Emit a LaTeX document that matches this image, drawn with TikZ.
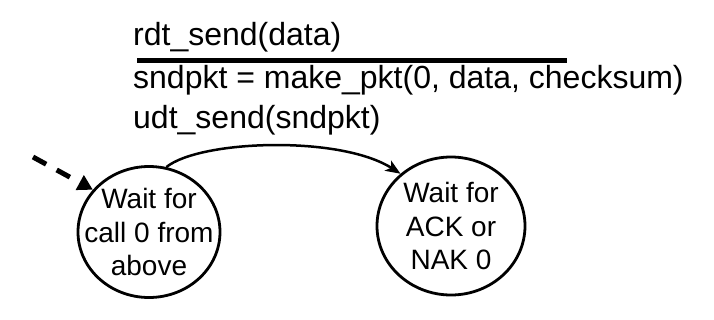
\documentclass[tikz,border=0pt]{standalone}
\usepackage{fontspec}
\setmainfont{Liberation Sans}
\usetikzlibrary{shapes.geometric,arrows.meta}
\begin{document}
\begin{tikzpicture}[x=1pt,y=-1pt,
  state/.style={ellipse,draw,line width=2.8pt,inner xsep=-16pt,inner ysep=-3pt,align=center,
    font=\fontsize{28}{33.5}\selectfont},
  lbl/.style={anchor=base west,inner sep=0pt,
    font=\fontsize{32}{40}\selectfont},
  trans/.style={line width=2.5pt,-{Stealth[length=15pt,width=12pt,inset=4pt]}},
  initarr/.style={line width=5pt,dash pattern=on 15pt off 12pt,
    -{Triangle[length=15pt,width=16pt]}}]
\useasboundingbox (0,0) rectangle (714,319);
\node[state,minimum width=142pt,minimum height=131pt] (s0) at (149,232) {Wait for\\call 0 from\\above};
\node[state,minimum width=148pt,minimum height=138pt] (s1) at (451,226) {Wait for\\ACK or\\NAK 0};
\node[lbl] (ev) at (133,45) {rdt\_send(data)};
\node[lbl] (act1) at (133,88) {sndpkt = make\_pkt(0, data, checksum)};
\node[lbl] (act2) at (133,128) {udt\_send(sndpkt)};
\draw[line width=5pt] (137,60) -- (567,60);
\coordinate (init) at (33,157);
\draw[initarr] (init) -- (s0.143);
\draw[trans] (s0.75) .. controls (200,140) and (340,135) .. (s1.134);
\end{tikzpicture}
\end{document}
